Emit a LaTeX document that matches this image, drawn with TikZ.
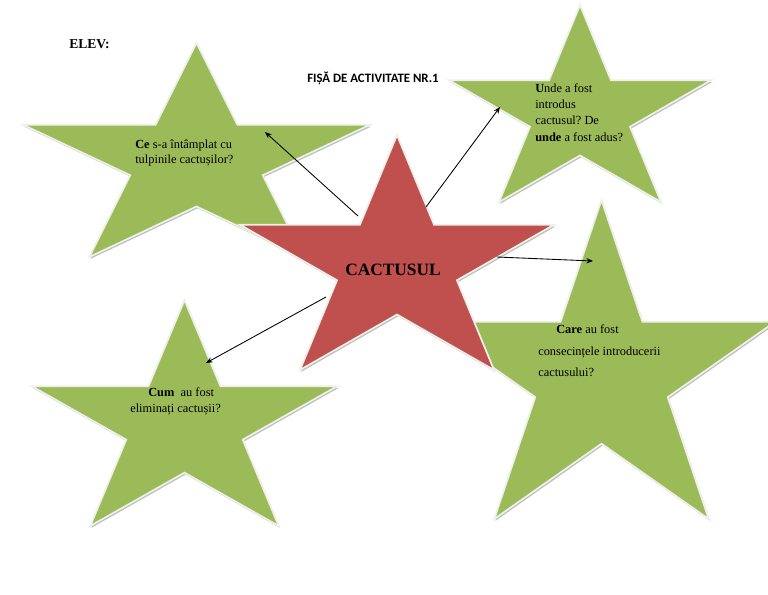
\documentclass[tikz,border=0pt]{standalone}
\usepackage{fontspec}
\setmainfont{Liberation Serif}
\newfontfamily\calibfont{Carlito}
\usetikzlibrary{arrows.meta}
\frenchspacing
\definecolor{stargreen}{HTML}{9BBB59}
\definecolor{starred}{HTML}{C0504D}
\definecolor{starrim}{HTML}{EEF0EA}
\definecolor{starshade}{HTML}{BDBDBD}
\newcommand\drawstar[6]{%
 \pgfmathsetmacro\stsx{(#4-#2)/1.9021}%
 \pgfmathsetmacro\stsy{(#5-#3)/1.8090}%
 \pgfmathsetmacro\stcx{(#2+#4)/2}%
 \pgfmathsetmacro\stcy{#3+\stsy}%
 \begin{scope}[shift={(\stcx+1.2,\stcy+1.8)},xscale=\stsx,yscale=-\stsy]
  \fill[starshade] (90:1) -- (126:0.382) -- (162:1) -- (198:0.382) -- (234:1) -- (270:0.382) -- (306:1) -- (342:0.382) -- (18:1) -- (54:0.382) -- cycle;
 \end{scope}
 \begin{scope}[shift={(\stcx,\stcy)},xscale=\stsx,yscale=-\stsy]
  \filldraw[draw=starrim,line width=1.3pt,line join=miter,fill=#6] (90:1) -- (126:0.382) -- (162:1) -- (198:0.382) -- (234:1) -- (270:0.382) -- (306:1) -- (342:0.382) -- (18:1) -- (54:0.382) -- cycle;
  \coordinate (#1) at (0,0);
 \end{scope}}
\tikzset{
 conn/.style={draw=black,line width=0.65pt,-{Stealth[length=5pt,width=4pt]}},
 qtext/.style={anchor=base west,inner sep=0pt,font=\fontsize{9.3}{11}\selectfont},
}
\begin{document}
\begin{tikzpicture}[x=0.75pt,y=-0.75pt]
\useasboundingbox (0,0) rectangle (768,594);
\fill[white] (0,0) rectangle (768,594);
% stars
\drawstar{tl}{23}{43}{370}{257}{stargreen}
\drawstar{tr}{449}{5}{711}{202}{stargreen}
\drawstar{br}{428}{200}{775}{519}{stargreen}
\drawstar{bl}{32}{300}{337}{526}{stargreen}
\drawstar{ctr}{240}{135}{554}{370}{starred}
% headings
\node[anchor=base west,inner sep=0pt,font=\fontsize{10.2}{12}\selectfont\bfseries] (elev) at (69,48) {ELEV:};
\node[anchor=base west,inner sep=0pt,font=\calibfont\fontsize{9.6}{11}\selectfont\bfseries] (fisa) at (307,82) {FIȘĂ DE ACTIVITATE NR.1};
\node[anchor=base,inner sep=0pt,font=\fontsize{13}{15}\selectfont\bfseries] (cact) at (393,275) {CACTUSUL};
% texts
\node[qtext] (tl1) at (135,148) {\textbf{Ce} s-a întâmplat cu};
\node[qtext] (tl2) at (135,163.5) {tulpinile cactușilor?};
\node[qtext] (tr1) at (535,92) {\textbf{U}nde a fost};
\node[qtext] (tr2) at (535,108) {introdus};
\node[qtext] (tr3) at (535,124.5) {cactusul? De};
\node[qtext] (tr4) at (535,141) {\textbf{unde} a fost adus?};
\node[qtext] (br1) at (556,333) {\textbf{Care} au fost};
\node[qtext] (br2) at (538,355) {consecințele introducerii};
\node[qtext] (br3) at (538,376) {cactusului?};
\node[qtext] (bl1) at (148,396) {\textbf{Cum}\ \ au fost};
\node[qtext] (bl2) at (130,412) {eliminați cactușii?};
% connectors
\coordinate (a1s) at (358,216); \coordinate (a1e) at (265,132);
\coordinate (a2s) at (426,207); \coordinate (a2e) at (500,107);
\coordinate (a3s) at (497,257); \coordinate (a3e) at (593,261);
\coordinate (a4s) at (326,297); \coordinate (a4e) at (206,363);
\draw[conn] (a1s) -- (a1e);
\draw[conn] (a2s) -- (a2e);
\draw[conn] (a3s) -- (a3e);
\draw[conn] (a4s) -- (a4e);
\end{tikzpicture}
\end{document}
